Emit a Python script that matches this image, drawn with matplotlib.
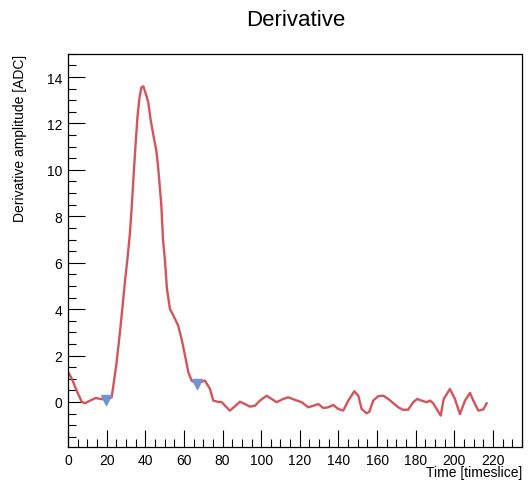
import numpy as np
import matplotlib
matplotlib.use("Agg")
import matplotlib.pyplot as plt
from matplotlib.ticker import MultipleLocator

plt.rcParams['font.family'] = ['Liberation Sans', 'DejaVu Sans']

# derivative trace
time = [0, 2, 4.8, 7.2, 8.8, 11, 14.3, 17, 19.6, 22.6, 23.5, 25.2, 26.9, 28.3,
        29.5, 30.7, 32, 33, 34, 35, 36, 37, 38, 39, 40.3, 41.6, 42.7, 44.2,
        45.8, 46.8, 48.3, 49.2, 50.2, 51.2, 52.8, 54.4, 57, 58.8, 60.6, 62.3,
        64, 66.6, 68.5, 70.9, 73.5, 75.2, 77.8, 79.5, 81.3, 83.8, 86.4, 89,
        91.6, 94.2, 96.8, 99.4, 102.8, 105.4, 108, 111.4, 114, 117.5, 121,
        124.4, 127, 129.6, 132.1, 134.7, 137.3, 139.9, 142.5, 145.1, 148.2,
        150.3, 152, 154.6, 156, 158, 160.6, 163.2, 165.8, 168.4, 171, 173.5,
        176.1, 178.7, 180.8, 183, 185.6, 187.4, 189.1, 192.9, 194.5, 197.7,
        200.3, 202.9, 205.5, 208.1, 209.8, 212.4, 215, 216.7]
deriv = [1.3, 1.0, 0.43, 0.0, -0.05, 0.04, 0.17, 0.13, 0.1, 0.2, 0.7, 1.72, 3.0,
         4.15, 5.2, 6.1, 7.2, 8.4, 9.8, 11.1, 12.3, 13.1, 13.55, 13.6, 13.28,
         12.9, 12.2, 11.5, 10.8, 10.0, 8.5, 7.0, 6.1, 4.9, 4.0, 3.75, 3.3,
         2.72, 2.0, 1.28, 0.92, 0.78, 0.85, 0.92, 0.56, 0.06, 0.0, 0.0, -0.16,
         -0.37, -0.19, 0.01, -0.09, -0.2, -0.16, 0.06, 0.27, 0.13, -0.01, 0.13,
         0.2, 0.09, -0.01, -0.23, -0.16, -0.09, -0.26, -0.23, -0.13, -0.3,
         -0.37, 0.06, 0.46, 0.27, -0.3, -0.49, -0.42, 0.06, 0.25, 0.27, 0.13,
         -0.05, -0.23, -0.34, -0.33, -0.01, 0.13, 0.06, -0.01, 0.06, -0.06,
         -0.59, 0.13, 0.56, 0.13, -0.52, 0.06, 0.39, 0.06, -0.37, -0.32, -0.06]

# found minima
min_time = [19.6, 66.6]
min_val = [0.1, 0.78]

fig = plt.figure(figsize=(5.31, 4.81), dpi=100)
ax = fig.add_axes([0.128, 0.0686, 0.855, 0.8174])

ax.plot(time, deriv, color='#d4545c', linewidth=1.7, zorder=2,
        solid_joinstyle='round')
ax.plot(min_time, min_val, linestyle='none', marker='v', markersize=7,
        color='#7592d2', zorder=3)

ax.set_xlim(0, 235)
ax.set_ylim(-1.94, 15.0)

ax.xaxis.set_major_locator(MultipleLocator(20))
ax.xaxis.set_minor_locator(MultipleLocator(5))
ax.yaxis.set_major_locator(MultipleLocator(2))
ax.yaxis.set_minor_locator(MultipleLocator(0.5))
ax.tick_params(which='both', direction='in', top=False, right=False,
               labelsize=10, width=0.8)
ax.tick_params(which='major', length=12, pad=4)
ax.tick_params(which='minor', length=6)
for s in ax.spines.values():
    s.set_linewidth(0.9)

ax.set_xlabel("Time [timeslice]", fontsize=10, ha='right', va='top')
ax.xaxis.set_label_coords(1.0, -0.047)
ax.set_ylabel("Derivative amplitude [ADC]", fontsize=10, ha='right', va='center')
ax.yaxis.set_label_coords(-0.106, 1.0)
fig.text(0.557, 0.958, "Derivative", fontsize=16, ha='center', va='center')

plt.savefig("out.png", dpi=100)
plt.close()
